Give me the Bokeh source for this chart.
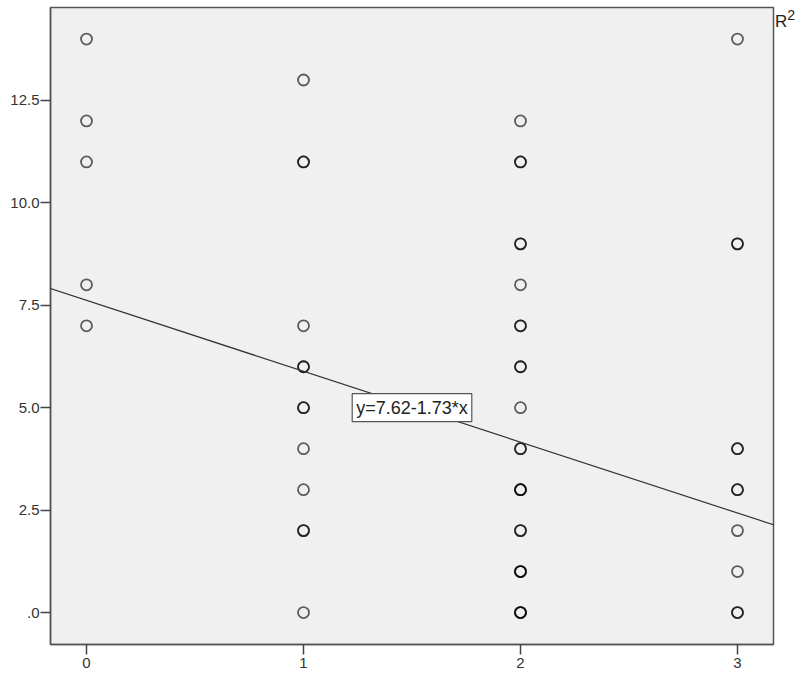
from bokeh.plotting import figure
from bokeh.models import Range1d, FixedTicker, Label, Slope, ColumnDataSource, Div
from bokeh.layouts import row
from bokeh.embed import file_html
from bokeh.resources import INLINE

# ---- data ----
x_categories = [0, 1, 2, 3]
y_at_0 = [14, 12, 11, 8, 7]
n_at_0 = [1, 1, 1, 1, 1]
y_at_1 = [13, 11, 7, 6, 5, 4, 3, 2, 0]
n_at_1 = [1, 2, 1, 2, 2, 1, 1, 2, 1]
y_at_2 = [12, 11, 9, 8, 7, 6, 5, 4, 3, 2, 1, 0]
n_at_2 = [1, 2, 2, 1, 2, 2, 1, 2, 3, 2, 3, 3]
y_at_3 = [14, 9, 4, 3, 2, 1, 0]
n_at_3 = [1, 2, 2, 2, 1, 1, 2]

intercept = 7.62
slope = -1.73
equation_text = "y=7.62-1.73*x"

y_ticks = [0, 2.5, 5.0, 7.5, 10.0, 12.5]
y_tick_labels = [".0", "2.5", "5.0", "7.5", "10.0", "12.5"]
x_tick_labels = ["0", "1", "2", "3"]

xs, ys = [], []
for xc, yl, nl in zip(x_categories, [y_at_0, y_at_1, y_at_2, y_at_3],
                      [n_at_0, n_at_1, n_at_2, n_at_3]):
    for yv, nv in zip(yl, nl):
        for _ in range(nv):
            xs.append(xc)
            ys.append(yv)
src = ColumnDataSource(dict(x=xs, y=ys))

p = figure(width=775, height=678, output_backend="svg", toolbar_location=None,
           x_range=Range1d(-0.166, 3.166), y_range=Range1d(-0.78, 14.77),
           min_border_left=50, min_border_right=2, min_border_top=7,
           min_border_bottom=34)
p.background_fill_color = "#f0f0f0"
p.border_fill_color = "white"
p.outline_line_color = "#555555"
p.outline_line_width = 1.5
p.grid.visible = False

p.scatter("x", "y", source=src, marker="circle", size=11,
          fill_alpha=0, line_color="black", line_alpha=0.62, line_width=1.8)

p.add_layout(Slope(gradient=slope, y_intercept=intercept,
                   line_color="#333333", line_width=1.2))

p.add_layout(Label(x=1.5, y=5.0, text=equation_text, text_align="center",
                   text_baseline="middle", text_font="Liberation Sans",
                   text_font_size="18px", text_color="#222222",
                   background_fill_color="white", border_line_color="#555555",
                   border_line_width=1.2, padding=4))

p.xaxis.ticker = FixedTicker(ticks=x_categories)
p.xaxis.major_label_overrides = {c: l for c, l in zip(x_categories, x_tick_labels)}
p.yaxis.ticker = FixedTicker(ticks=y_ticks)
p.yaxis.major_label_overrides = {t: l for t, l in zip(y_ticks, y_tick_labels)}
for ax in (p.xaxis, p.yaxis):
    ax.minor_tick_line_color = None
    ax.major_tick_in = 0
    ax.major_tick_out = 10
    ax.major_tick_line_color = "#444444"
    ax.major_tick_line_width = 1.5
    ax.axis_line_color = "#555555"
    ax.axis_line_width = 1.5
    ax.major_label_text_font = "Liberation Sans"
    ax.major_label_text_font_size = "15px"
    ax.major_label_text_color = "#333333"
p.xaxis.major_label_standoff = 3
p.yaxis.major_label_standoff = 1

r2 = Div(text="R<sup>2</sup>", width=22, height=40, margin=(0, 0, 0, 0),
         styles={"font-family": "Liberation Sans", "font-size": "17px",
                 "color": "#222222", "padding-top": "5px"})

layout = row(p, r2, spacing=0)
open("out.html", "w").write(file_html(layout, INLINE))
